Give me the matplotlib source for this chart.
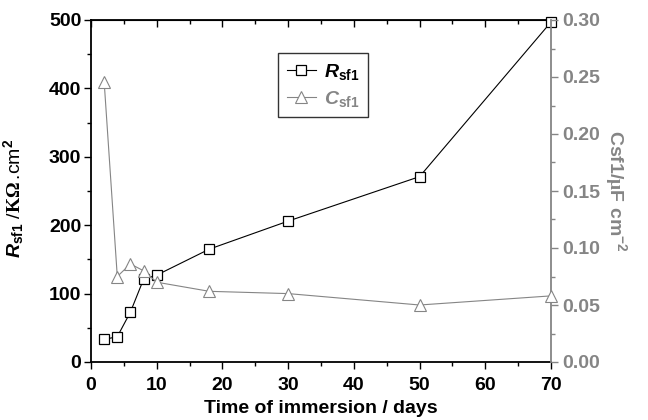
import matplotlib
matplotlib.use("Agg")
import matplotlib.pyplot as plt
from matplotlib.ticker import MultipleLocator

plt.rcParams['font.family'] = ['Liberation Sans', 'DejaVu Sans']
plt.rcParams['font.weight'] = 'bold'
plt.rcParams['mathtext.fontset'] = 'custom'
plt.rcParams['mathtext.rm'] = 'Liberation Sans:bold'
plt.rcParams['mathtext.it'] = 'Liberation Sans:bold:italic'
plt.rcParams['mathtext.bf'] = 'Liberation Sans:bold'
plt.rcParams['mathtext.sf'] = 'Liberation Serif'

days = [2, 4, 6, 8, 10, 18, 30, 50, 70]
r_sf1 = [33, 37, 73, 121, 127, 165, 206, 271, 497]
c_sf1 = [0.246, 0.075, 0.086, 0.080, 0.070, 0.062, 0.060, 0.050, 0.058]

grey = '#858585'
fs = 14

fig = plt.figure(figsize=(6.48, 4.2), dpi=100)
ax = fig.add_axes([91/648, 1 - 362/420, 460/648, 342/420])
ax2 = ax.twinx()

ax.plot(days, r_sf1, color='black', lw=0.8, marker='s', ms=6.5,
        mfc='white', mec='black', mew=0.9, clip_on=False, zorder=5,
        label=r'$R_{\mathrm{sf1}}$')
ax2.plot(days, c_sf1, color=grey, lw=0.8, marker='^', ms=8.5,
         mfc='white', mec=grey, mew=0.8, clip_on=False, zorder=4,
         label=r'$C_{\mathrm{sf1}}$')

ax.set_xlim(0, 70)
ax.set_ylim(0, 500)
ax2.set_ylim(0, 0.30)

ax.xaxis.set_major_locator(MultipleLocator(10))
ax.xaxis.set_minor_locator(MultipleLocator(5))
ax.yaxis.set_major_locator(MultipleLocator(100))
ax.yaxis.set_minor_locator(MultipleLocator(50))
ax2.yaxis.set_major_locator(MultipleLocator(0.05))
ax2.yaxis.set_minor_locator(MultipleLocator(0.025))
ax2.yaxis.set_major_formatter(lambda v, p: f'{v:.2f}')

ax.tick_params(axis='both', which='major', direction='out', length=5, width=1,
               labelsize=fs, pad=2)
ax.tick_params(axis='x', which='major', pad=6)
ax.tick_params(axis='both', which='minor', direction='out', length=3, width=1)
ax.tick_params(axis='y', right=False)

ax2.tick_params(axis='y', which='major', direction='out', length=5, width=1,
                colors=grey, labelsize=fs, pad=3)
ax2.tick_params(axis='y', which='minor', direction='out', length=3, width=1,
                colors=grey)

top = ax.secondary_xaxis('top')
top.xaxis.set_major_locator(MultipleLocator(10))
top.xaxis.set_minor_locator(MultipleLocator(5))
top.tick_params(which='major', direction='in', length=5, width=1, labeltop=False)
top.tick_params(which='minor', direction='in', length=3, width=1)
top.spines['top'].set_linewidth(1.3)

for s in ['left', 'bottom']:
    ax.spines[s].set_linewidth(1.3)
ax2.spines['right'].set_color(grey)
ax2.spines['right'].set_linewidth(1.3)
ax2.spines['left'].set_visible(False)
ax2.spines['top'].set_visible(False)
ax2.spines['bottom'].set_visible(False)
ax.spines['right'].set_visible(False)

ax.set_xlabel('Time of immersion / days', fontsize=fs, fontweight='bold')
ax.xaxis.set_label_coords(0.5, -38/342)
ax.set_ylabel(r'$R_{\mathrm{sf1}}$ /$\mathsf{K\Omega}\,$.cm$^{2}$', fontsize=fs)
ax.yaxis.set_label_coords(-65/460, 0.48)
ax2.set_ylabel(r'$\mathrm{Csf1/}\mathsf{\mu}\mathrm{F\ cm^{-2}}$', fontsize=fs,
               color=grey, rotation=270, va='center')
ax2.yaxis.set_label_coords(1 + 65/460, 0.5)

h1, l1 = ax.get_legend_handles_labels()
h2, l2 = ax2.get_legend_handles_labels()
leg = ax.legend(h1 + h2, l1 + l2, loc='upper left',
                bbox_to_anchor=((278 - 91) / 460, (362 - 53) / 342),
                borderaxespad=0, frameon=True, fancybox=False, edgecolor='black',
                fontsize=fs, handlelength=1.5, handletextpad=0.4,
                borderpad=0.45, labelspacing=0.35)
leg.get_frame().set_linewidth(1.0)
leg.set_zorder(10)
leg.get_texts()[1].set_color(grey)

fig.savefig('out.png', dpi=100)
